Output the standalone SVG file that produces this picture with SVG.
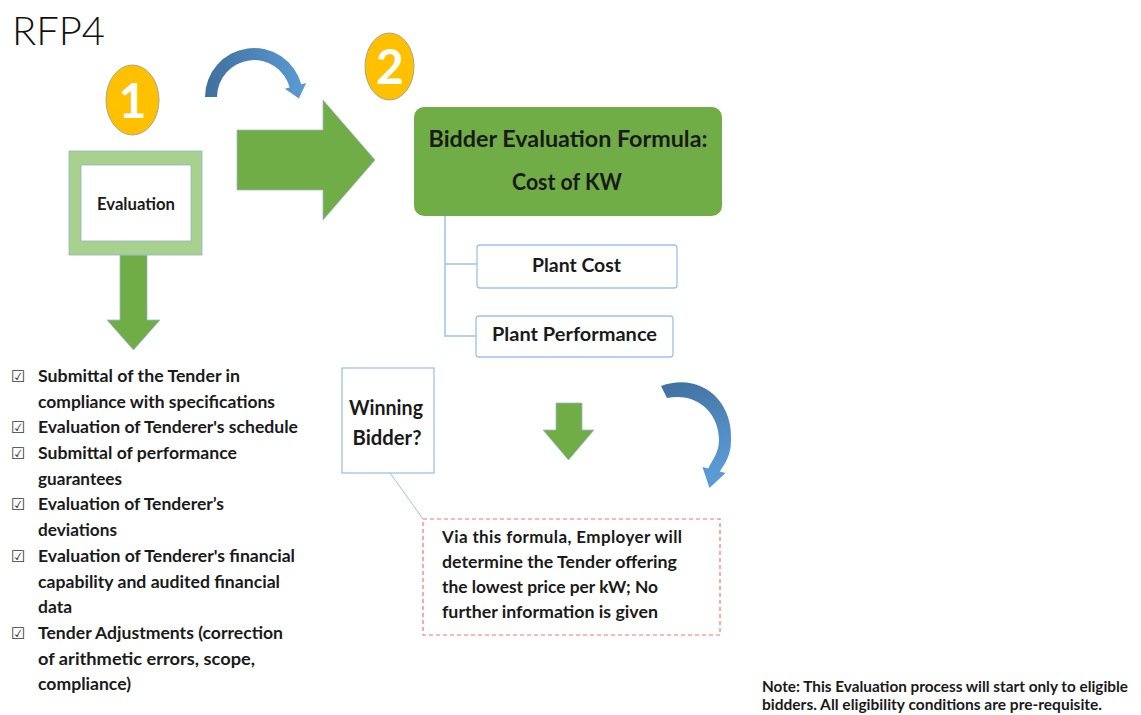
<svg xmlns="http://www.w3.org/2000/svg" width="1141" height="715" viewBox="0 0 1141 715">
  <defs>
    <linearGradient id="blueArcTop" x1="0" y1="0" x2="1" y2="0">
      <stop offset="0" stop-color="#3f6f9e"/>
      <stop offset="1" stop-color="#5b9bd5"/>
    </linearGradient>
    <linearGradient id="blueArcRight" x1="0" y1="0" x2="0.3" y2="1">
      <stop offset="0" stop-color="#3f6f9e"/>
      <stop offset="1" stop-color="#5b9bd5"/>
    </linearGradient>
  </defs>
  <style>
    text { font-family: "Lato", "Liberation Sans", sans-serif; font-weight: bold; fill: #1a1a1a; }
    .title { font-weight: 300; font-size: 40px; fill: #111; }
    .num { font-size: 48px; fill: #ffffff; text-anchor: middle; }
    .badge { fill: #ffc000; stroke: #a3a78f; stroke-width: 1; }
    .blockArrow { fill: #70ad47; stroke: #9fb6cf; stroke-width: 0.8; }
    .lightBox { fill: #ffffff; stroke: #9dc3e6; stroke-width: 1.3; }
    .link { fill: none; stroke: #9dc3e6; stroke-width: 1.5; }
    .item { font-size: 17.5px; }
    .tick { font-family: "DejaVu Sans", sans-serif; font-weight: normal; font-size: 16px; fill: #3a3a3a; }
    .mid { text-anchor: middle; }
    .note { font-size: 15px; }
    .callout { font-size: 17px; }
  </style>

  <!-- page title -->
  <text class="title" x="12" y="45" textLength="93" lengthAdjust="spacingAndGlyphs">RFP4</text>

  <!-- step badges -->
  <g id="badge-1">
    <ellipse class="badge" cx="132.5" cy="100" rx="26.5" ry="35"/>
    <text class="num" x="132.5" y="118">1</text>
  </g>
  <g id="badge-2">
    <ellipse class="badge" cx="389.5" cy="66.5" rx="24.5" ry="33.5"/>
    <text class="num" x="390" y="84">2</text>
  </g>

  <!-- arrows and connector lines -->
  <g id="connectors">
    <!-- curved arrow over the big arrow -->
    <path fill="url(#blueArcTop)" d="M205 97 A49 49 0 0 1 301.3 84.3 L306.2 83 L298.9 98.5 L284.9 88.7 L289.7 87.4 A37 37 0 0 0 217 97 Z"/>
    <!-- large right arrow -->
    <path class="blockArrow" d="M237 130 H323 V100 L375 160 L323 220 V190 H237 Z"/>
    <!-- down arrow below Evaluation -->
    <path class="blockArrow" d="M120 255 H147 V320 H160 L133.5 350 L107 320 H120 Z"/>
    <!-- tree lines from formula box -->
    <path class="link" d="M445 216 V336 H476 M445 264 H477"/>
    <!-- small down arrow -->
    <path class="blockArrow" d="M556 403 H582 V430 H594 L568.5 460 L543 430 H556 Z"/>
    <!-- curved arrow on the right -->
    <path fill="url(#blueArcRight)" d="M661 386 C700 372 733 400 731 440 C731 455 726 462 719.8 471.5 L725.6 473 L709.5 488 L702.4 467 L708.2 468.5 C713 459 719 452 719 440 C719 412 696 392 667 398 Z"/>
    <!-- callout pointer -->
    <path d="M390 473 L423 519" fill="none" stroke="#9dc3e6" stroke-width="1"/>
  </g>

  <!-- step 1 -->
  <g id="evaluation">
    <rect x="69" y="151" width="133" height="104" fill="#a9d18e" stroke="#8eb3c9" stroke-width="0.8"/>
    <rect x="81" y="165" width="110" height="76" fill="#ffffff" stroke="#8eb3c9" stroke-width="0.8"/>
    <text class="mid" x="136" y="210" font-size="16.5" textLength="78" lengthAdjust="spacingAndGlyphs">Evaluation</text>
  </g>

  <!-- evaluation checklist -->
  <g id="checklist">
    <text class="tick" x="11" y="382">☑</text>
    <text class="tick" x="11" y="433">☑</text>
    <text class="tick" x="11" y="459">☑</text>
    <text class="tick" x="11" y="510">☑</text>
    <text class="tick" x="11" y="562">☑</text>
    <text class="tick" x="11" y="639">☑</text>
    <text class="item" x="38" y="382" textLength="202" lengthAdjust="spacingAndGlyphs">Submittal of the Tender in</text>
    <text class="item" x="38" y="408" textLength="237" lengthAdjust="spacingAndGlyphs">compliance with specifications</text>
    <text class="item" x="38" y="433" textLength="260" lengthAdjust="spacingAndGlyphs">Evaluation of Tenderer's schedule</text>
    <text class="item" x="38" y="459" textLength="199" lengthAdjust="spacingAndGlyphs">Submittal of performance</text>
    <text class="item" x="38" y="485" textLength="84" lengthAdjust="spacingAndGlyphs">guarantees</text>
    <text class="item" x="38" y="510" textLength="186" lengthAdjust="spacingAndGlyphs">Evaluation of Tenderer’s</text>
    <text class="item" x="38" y="536" textLength="79" lengthAdjust="spacingAndGlyphs">deviations</text>
    <text class="item" x="38" y="562" textLength="257" lengthAdjust="spacingAndGlyphs">Evaluation of Tenderer's financial</text>
    <text class="item" x="38" y="588" textLength="242" lengthAdjust="spacingAndGlyphs">capability and audited financial</text>
    <text class="item" x="38" y="613" textLength="34" lengthAdjust="spacingAndGlyphs">data</text>
    <text class="item" x="38" y="639" textLength="245" lengthAdjust="spacingAndGlyphs">Tender Adjustments (correction</text>
    <text class="item" x="38" y="665" textLength="217" lengthAdjust="spacingAndGlyphs">of arithmetic errors, scope,</text>
    <text class="item" x="38" y="690" textLength="93" lengthAdjust="spacingAndGlyphs">compliance)</text>
  </g>

  <!-- step 2 -->
  <g id="formula">
    <rect x="414" y="107" width="308" height="109" rx="10" fill="#70ad47"/>
    <text class="mid" x="568" y="147" font-size="23" textLength="279" lengthAdjust="spacingAndGlyphs" fill="#111">Bidder Evaluation Formula:</text>
    <text class="mid" x="567" y="190" font-size="23" textLength="110" lengthAdjust="spacingAndGlyphs" fill="#111">Cost of KW</text>
  </g>
  <g id="plant-cost">
    <rect class="lightBox" x="477" y="245" width="200" height="43" rx="3"/>
    <text class="mid" x="576.5" y="272" font-size="19" textLength="89" lengthAdjust="spacingAndGlyphs">Plant Cost</text>
  </g>
  <g id="plant-performance">
    <rect class="lightBox" x="476" y="316" width="197" height="41" rx="3"/>
    <text class="mid" x="574.5" y="341" font-size="19.5" textLength="165" lengthAdjust="spacingAndGlyphs">Plant Performance</text>
  </g>

  <g id="winning-bidder">
    <rect class="lightBox" x="342" y="368" width="92" height="105"/>
    <text class="mid" x="386" y="415" font-size="20.5" textLength="74" lengthAdjust="spacingAndGlyphs">Winning</text>
    <text class="mid" x="387" y="445" font-size="20.5" textLength="69" lengthAdjust="spacingAndGlyphs">Bidder?</text>
  </g>

  <g id="formula-note">
    <rect x="423" y="519" width="297" height="116" fill="#ffffff" stroke="#ff6f73" stroke-width="1.2" stroke-dasharray="4 3"/>
    <text class="callout" x="442" y="543" textLength="240" lengthAdjust="spacing">Via this formula, Employer will</text>
    <text class="callout" x="442" y="568" textLength="235" lengthAdjust="spacingAndGlyphs">determine the Tender offering</text>
    <text class="callout" x="442" y="593" textLength="216" lengthAdjust="spacingAndGlyphs">the lowest price per kW; No</text>
    <text class="callout" x="442" y="618" textLength="216" lengthAdjust="spacingAndGlyphs">further information is given</text>
  </g>

  <g id="eligibility-note">
    <text class="note" x="762" y="692" textLength="366" lengthAdjust="spacingAndGlyphs">Note: This Evaluation process will start only to eligible</text>
    <text class="note" x="762" y="710" textLength="340" lengthAdjust="spacingAndGlyphs">bidders. All eligibility conditions are pre-requisite.</text>
  </g>
</svg>
